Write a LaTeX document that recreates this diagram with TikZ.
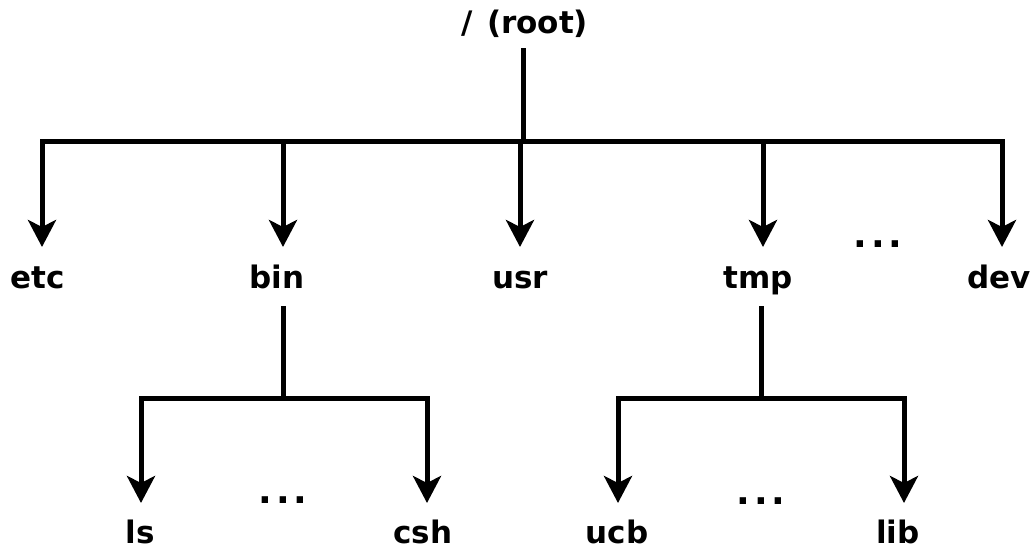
\documentclass[tikz,border=0pt]{standalone}
\usepackage{fontspec}
\setmainfont{DejaVu Sans}
\usetikzlibrary{arrows.meta}
\tikzset{
  lbl/.style={anchor=base, inner sep=0pt, font=\bfseries\fontsize{31}{34}\selectfont},
  dots/.style={anchor=base, inner sep=0pt, font=\bfseries\fontsize{36}{38}\selectfont},
  ln/.style={line width=5pt, line cap=rect},
  arr/.style={line width=5pt, -{Stealth[length=27pt, width=28pt, inset=7pt]}}
}
\newcommand{\dotrow}{.\kern4pt.\kern4pt.}
\begin{document}
\begin{tikzpicture}[x=1pt, y=-1pt]
\useasboundingbox (0,0) rectangle (1034,550);

% root and the first-level bar
\node[lbl] (root) at (525,33) {/\kern3pt{} (root)};
\coordinate (rtop) at (523,50);
\coordinate (rj) at (523,141);
\coordinate (bL) at (42,141);
\coordinate (bR) at (1002,141);
\draw[ln] (rtop) -- (rj);
\draw[ln] (bL) -- (bR);

% first-level directories
\node[lbl] (etc) at (38,288) {etc};
\node[lbl] (bin) at (277,288) {bin};
\node[lbl] (usr) at (520,288) {usr};
\node[lbl] (tmp) at (758,288) {tmp};
\node[lbl] (dev) at (999,288) {dev};
\node[dots] (d1) at (878,247) {\dotrow};

\coordinate (j-etc) at (42,141);  \coordinate (t-etc) at (42,247);
\coordinate (j-bin) at (283,141); \coordinate (t-bin) at (283,247);
\coordinate (j-usr) at (520,141); \coordinate (t-usr) at (520,247);
\coordinate (j-tmp) at (763,141); \coordinate (t-tmp) at (763,247);
\coordinate (j-dev) at (1002,141);\coordinate (t-dev) at (1002,247);
\foreach \n in {etc,bin,usr,tmp,dev}
  \draw[arr] (j-\n) -- (t-\n);

% children of bin
\coordinate (bin-s) at (283,308);
\coordinate (bin-j) at (283,398);
\coordinate (bin-L) at (141,398);
\coordinate (bin-R) at (427,398);
\draw[ln] (bin-s) -- (bin-j);
\draw[ln] (bin-L) -- (bin-R);
\coordinate (t-ls) at (141,503);
\coordinate (t-csh) at (427,503);
\draw[arr] (bin-L) -- (t-ls);
\draw[arr] (bin-R) -- (t-csh);
\node[lbl] (ls) at (140,543) {ls};
\node[lbl] (csh) at (423,543) {csh};
\node[dots] (d2) at (283,503) {\dotrow};

% children of tmp
\coordinate (tmp-s) at (761,308);
\coordinate (tmp-j) at (761,398);
\coordinate (tmp-L) at (618,398);
\coordinate (tmp-R) at (904,398);
\draw[ln] (tmp-s) -- (tmp-j);
\draw[ln] (tmp-L) -- (tmp-R);
\coordinate (t-ucb) at (618,503);
\coordinate (t-lib) at (904,503);
\draw[arr] (tmp-L) -- (t-ucb);
\draw[arr] (tmp-R) -- (t-lib);
\node[lbl] (ucb) at (617,543) {ucb};
\node[lbl] (lib) at (898,543) {lib};
\node[dots] (d3) at (761,504) {\dotrow};
\end{tikzpicture}
\end{document}
